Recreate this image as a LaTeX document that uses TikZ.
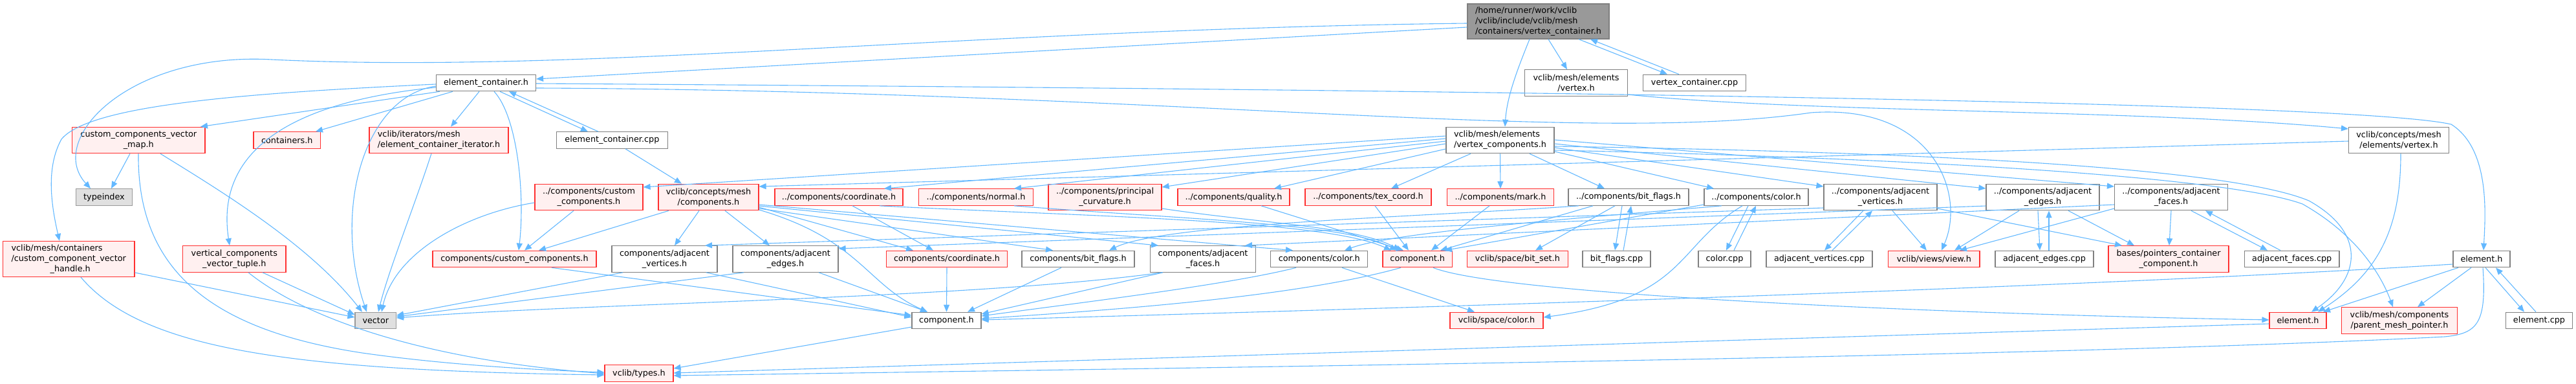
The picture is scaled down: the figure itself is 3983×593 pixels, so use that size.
\documentclass[tikz,border=0pt]{standalone}
\usepackage{fontspec}
\setmainfont{DejaVu Sans}
\usetikzlibrary{arrows.meta}
\definecolor{dxblue}{HTML}{63B8FF}
\definecolor{dxred}{HTML}{FF3030}
\definecolor{dxredfill}{HTML}{FFF0F0}
\definecolor{dxgray}{HTML}{808080}
\definecolor{dxlgray}{HTML}{999999}
\definecolor{dxgfill}{HTML}{E0E0E0}
\definecolor{dxmain}{HTML}{999999}
\tikzset{
  base/.style={rectangle, inner sep=0pt, align=center, line width=1.2pt, text=black,
    font=\fontsize{12.8}{16}\selectfont},
  rn/.style={base, draw=dxred, fill=dxredfill},
  wn/.style={base, draw=dxgray, fill=white},
  gn/.style={base, draw=dxlgray, fill=dxgfill},
  mn/.style={base, draw=dxgray, fill=dxmain, align=left},
  s1/.style={minimum height=25.5pt},
  s2/.style={minimum height=40.5pt},
  s3/.style={minimum height=55pt},
  edge/.style={draw=dxblue, line width=1.1pt, -{Triangle[length=11pt,width=9pt]}}
}
\begin{document}
\begin{tikzpicture}[x=1pt,y=-1pt]
\useasboundingbox (0,0) rectangle (3983,593);
% row 0
\node[mn, minimum width=219pt, minimum height=54pt] (M) at (2378.5,33) {/home/runner/work/vclib\\/vclib/include/vclib/mesh\\/containers/vertex\_container.h};
% row 1
\node[wn,s1,minimum width=154pt] (EC) at (751.5,128) {element\_container.h};
\node[wn,s2,minimum width=158.5pt] (VH) at (2437,128) {vclib/mesh/elements\\/vertex.h};
\node[wn,s1,minimum width=158.5pt] (VCC) at (2620,128) {vertex\_container.cpp};
% row 2
\node[rn,s2,minimum width=205.5pt] (CCVM) at (214.3,216.5) {custom\_components\_vector\\\_map.h};
\node[rn,s1,minimum width=103.5pt] (CONT) at (443.8,216.5) {containers.h};
\node[rn,s2,minimum width=215pt,align=left] (IT) at (678.5,216.5) {vclib/iterators/mesh\\/element\_container\_iterator.h};
\node[wn,s1,minimum width=171.5pt] (ECC) at (946.4,216.5) {element\_container.cpp};
\node[wn,s2,minimum width=167pt,align=left] (VC) at (2319.5,216.5) {vclib/mesh/elements\\/vertex\_components.h};
\node[wn,s2,minimum width=155pt] (CV) at (3709,216.5) {vclib/concepts/mesh\\/elements/vertex.h};
% row 3
\node[gn,s1,minimum width=87pt] (T) at (161,304.5) {typeindex};
\node[rn,s2,minimum width=167pt] (PCC) at (910.5,304.5) {../components/custom\\\_components.h};
\node[rn,s2,minimum width=155pt] (CMC) at (1095.5,304.5) {vclib/concepts/mesh\\/components.h};
\node[rn,s1,minimum width=198pt] (PCO) at (1297,304.5) {../components/coordinate.h};
\node[rn,s1,minimum width=176.5pt] (PN) at (1509,304.5) {../components/normal.h};
\node[rn,s2,minimum width=175pt] (PP) at (1708.5,304.5) {../components/principal\\\_curvature.h};
\node[rn,s1,minimum width=173pt] (PQ) at (1907.5,304.5) {../components/quality.h};
\node[rn,s1,minimum width=195pt] (PT) at (2115.5,304.5) {../components/tex\_coord.h};
\node[rn,s1,minimum width=164.5pt] (PM) at (2320,304.5) {../components/mark.h};
\node[wn,s1,minimum width=186pt] (PB) at (2518,304.5) {../components/bit\_flags.h};
\node[wn,s1,minimum width=161pt] (PC) at (2715.5,304.5) {../components/color.h};
\node[wn,s2,minimum width=175pt] (PAV) at (2907.5,304.5) {../components/adjacent\\\_vertices.h};
\node[wn,s2,minimum width=175pt] (PAE) at (3158.5,304.5) {../components/adjacent\\\_edges.h};
\node[wn,s2,minimum width=175pt] (PAF) at (3357,304.5) {../components/adjacent\\\_faces.h};
% row 4
\node[rn,s3,minimum width=203.5pt,align=left] (H) at (106.25,400) {vclib/mesh/containers\\/custom\_component\_vector\\\hspace*{60pt}\_handle.h};
\node[rn,s2,minimum width=159.4pt] (VT) at (362.3,400) {vertical\_components\\\_vector\_tuple.h};
\node[rn,s1,minimum width=253pt] (CC4) at (795.5,400) {components/custom\_components.h};
\node[wn,s2,minimum width=163pt] (CAV) at (1027.5,400) {components/adjacent\\\_vertices.h};
\node[wn,s2,minimum width=163pt] (CAE) at (1214.5,400) {components/adjacent\\\_edges.h};
\node[rn,s1,minimum width=187pt] (CCO) at (1464,400) {components/coordinate.h};
\node[wn,s1,minimum width=174pt] (CBF) at (1667,400) {components/bit\_flags.h};
\node[wn,s2,minimum width=163pt] (CAF) at (1860,400) {components/adjacent\\\_faces.h};
\node[wn,s1,minimum width=150pt] (CCL) at (2039.7,400) {components/color.h};
\node[rn,s1,minimum width=107.5pt] (CR) at (2191.75,400) {component.h};
\node[rn,s1,minimum width=155.4pt] (BS) at (2346.4,400) {vclib/space/bit\_set.h};
\node[wn,s1,minimum width=105pt] (BFC) at (2499.5,400) {bit\_flags.cpp};
\node[wn,s1,minimum width=81pt] (CCP) at (2666.5,400) {color.cpp};
\node[wn,s1,minimum width=164pt] (AVC) at (2813,400) {adjacent\_vertices.cpp};
\node[rn,s1,minimum width=141.5pt] (VW) at (2990.3,400) {vclib/views/view.h};
\node[wn,s1,minimum width=152pt] (AEC) at (3161,400) {adjacent\_edges.cpp};
\node[rn,s2,minimum width=186pt] (PTR) at (3353,400) {bases/pointers\_container\\\_component.h};
\node[wn,s1,minimum width=146.5pt] (AFC) at (3543.7,400) {adjacent\_faces.cpp};
\node[wn,s1,minimum width=88pt] (EW) at (3837,400) {element.h};
% row 5
\node[gn,s1,minimum width=63.5pt] (VEC) at (580.8,495) {vector};
\node[wn,s1,minimum width=107pt] (CW) at (1463.5,495) {component.h};
\node[rn,s1,minimum width=144pt] (SC) at (2314,495) {vclib/space/color.h};
\node[rn,s1,minimum width=88pt] (ER) at (3553,495) {element.h};
\node[rn,s2,minimum width=178.5pt] (PMP) at (3710,495) {vclib/mesh/components\\/parent\_mesh\_pointer.h};
\node[wn,s1,minimum width=103.5pt] (ECP) at (3926,495) {element.cpp};
% row 6
\node[rn,s1,minimum width=106pt] (TY) at (988,576.5) {vclib/types.h};

% ---- edges: main
\draw[edge] (M.west |- 0,36) .. controls (1500,45) and (900,115) .. (420,92) .. controls (200,80) and (70,215) .. (T.north -| 140,0);
\draw[edge] (M.west |- 0,42) -- (EC.east |- 0,122);
\draw[edge] (M.south -| 2394,0) -- (VH.north -| 2423,0);
\draw[edge] (M.south -| 2365,0) .. controls (2345,110) and (2330,150) .. (VC.north -| 2327,0);
\draw[edge] (M.south -| 2441,0) -- (VCC.north -| 2578,0);
\draw[edge] (VCC.north -| 2596,0) -- (M.south -| 2459,0);
% element_container.h
\draw[edge] (EC.south -| 680,0) -- (CCVM.north -| 310,0);
\draw[edge] (EC.south -| 700,0) -- (CONT.north -| 488,0);
\draw[edge] (EC.south -| 741,0) -- (IT.north -| 697,0);
\draw[edge] (EC.west |- 0,133) .. controls (560,150) and (515,330) .. (VEC.north -| 567,0);
\draw[edge] (EC.west |- 0,135) .. controls (420,160) and (335,250) .. (VT.north -| 355,0);
\draw[edge] (EC.west |- 0,130) .. controls (400,143) and (140,160) .. (95,215) .. controls (70,260) and (80,320) .. (H.north -| 92,0);
\draw[edge] (EC.south -| 764,0) .. controls (800,180) and (812,300) .. (CC4.north -| 802,0);
\draw[edge] (EC.south -| 773,0) -- (ECC.north -| 909,0);
\draw[edge] (ECC.north -| 925,0) -- (EC.south -| 787,0);
\draw[edge] (EC.east |- 0,129) .. controls (2500,140) and (3650,160) .. (3790,192) .. controls (3850,230) and (3843,330) .. (EW.north -| 3840,0);
\draw[edge] (EC.east |- 0,136) .. controls (1800,140) and (2450,225) .. (2800,174) .. controls (2990,160) and (3040,300) .. (VW.north -| 3002,0);
% vertex.h
\draw[edge] (VH.east |- 0,146) .. controls (2800,175) and (3300,168) .. (CV.west |- 0,199);
% custom_components_vector_map
\draw[edge] (CCVM.south -| 201,0) -- (T.north -| 172,0);
\draw[edge] (CCVM.south -| 248,0) .. controls (350,300) and (480,380) .. (VEC.north -| 560,0);
\draw[edge] (CCVM.south -| 214,0) .. controls (212,420) and (330,510) .. (560,545) .. controls (700,565) and (850,572) .. (TY.west |- 0,575);
% vertical tuple
\draw[edge] (VT.south -| 406,0) -- (VEC.west |- 0,486);
\draw[edge] (VT.south -| 384,0) .. controls (470,490) and (650,555) .. (TY.west |- 0,577);
% handle
\draw[edge] (H.east |- 0,421) -- (VEC.west |- 0,490);
\draw[edge] (H.south -| 125,0) .. controls (220,540) and (450,572) .. (TY.west |- 0,579);
% iterator
\draw[edge] (IT.south -| 667,0) .. controls (640,320) and (600,420) .. (VEC.north -| 585,0);
% element_container.cpp
\draw[edge] (ECC.south -| 967,0) -- (CMC.north -| 1054,0);
% vertex_components
\draw[edge] (VC.west |- 0,210) -- (PCC.east |- 0,289);
\draw[edge] (VC.west |- 0,214) -- (PCO.north -| 1367,0);
\draw[edge] (VC.west |- 0,218) -- (PN.north -| 1568,0);
\draw[edge] (VC.west |- 0,222) -- (PP.east |- 0,289);
\draw[edge] (VC.west |- 0,230) -- (PQ.north -| 1970,0);
\draw[edge] (VC.south -| 2274,0) -- (PT.north -| 2151,0);
\draw[edge] (VC.south) -- (PM.north);
\draw[edge] (VC.south -| 2365,0) -- (PB.north -| 2481,0);
\draw[edge] (VC.east |- 0,234) -- (PC.north -| 2650,0);
\draw[edge] (VC.east |- 0,228) -- (PAV.west |- 0,288);
\draw[edge] (VC.east |- 0,222) -- (PAE.west |- 0,291);
\draw[edge] (VC.east |- 0,216) -- (PAF.west |- 0,288);
\draw[edge] (VC.east |- 0,226) .. controls (3000,235) and (3450,260) .. (3570,310) .. controls (3660,360) and (3650,430) .. (ER.north -| 3574,0);
\draw[edge] (VC.east |- 0,232) .. controls (3000,245) and (3450,275) .. (3560,315) .. controls (3640,360) and (3680,420) .. (PMP.north -| 3700,0);
% concept vertex
\draw[edge] (CV.west |- 0,218) -- (CMC.east |- 0,288);
\draw[edge] (CV.south -| 3712,0) .. controls (3712,350) and (3680,420) .. (ER.north -| 3584,0);
% ../custom_components
\draw[edge] (PCC.south -| 887,0) -- (CC4.north -| 811,0);
\draw[edge] (PCC.west |- 0,313) .. controls (720,330) and (610,390) .. (VEC.north -| 590,0);
% concepts components.h
\draw[edge] (CMC.south -| 1034,0) -- (CC4.north -| 833,0);
\draw[edge] (CMC.south -| 1081,0) -- (CAV.north -| 1043,0);
\draw[edge] (CMC.south -| 1121,0) -- (CAE.north -| 1190,0);
\draw[edge] (CMC.east |- 0,320) -- (CCO.north -| 1412,0);
\draw[edge] (CMC.east |- 0,322) -- (CBF.north -| 1628,0);
\draw[edge] (CMC.east |- 0,318) -- (CAF.north -| 1791,0);
\draw[edge] (CMC.east |- 0,316) -- (CCL.north -| 1999,0);
\draw[edge] (CMC.east |- 0,324) .. controls (1330,370) and (1340,440) .. (CW.north -| 1434,0);
% ../components/*  -> component.h (red)
\draw[edge] (PCO.south -| 1318,0) -- (CCO.north -| 1443,0);
\draw[edge] (PCO.south -| 1360,0) .. controls (1700,335) and (2050,340) .. (CR.north -| 2151,0);
\draw[edge] (PN.south -| 1568,0) .. controls (1850,340) and (2080,345) .. (CR.north -| 2160,0);
\draw[edge] (PP.east |- 0,322) .. controls (1950,345) and (2100,350) .. (CR.north -| 2165,0);
\draw[edge] (PQ.south -| 1950,0) -- (CR.north -| 2170,0);
\draw[edge] (PT.south -| 2126,0) -- (CR.north -| 2178,0);
\draw[edge] (PM.south -| 2303,0) -- (CR.north -| 2213,0);
\draw[edge] (PB.south -| 2463,0) -- (CR.north -| 2227,0);
\draw[edge] (PB.south -| 2441,0) .. controls (2200,335) and (1800,345) .. (CBF.north -| 1715,0);
\draw[edge] (PB.south -| 2497,0) -- (BS.north -| 2374,0);
\draw[edge] (PB.south -| 2508,0) -- (BFC.north -| 2497,0);
\draw[edge] (BFC.north -| 2510,0) -- (PB.south -| 2522,0);
\draw[edge] (PC.south -| 2703,0) -- (CCP.north -| 2669,0);
\draw[edge] (CCP.north -| 2681,0) -- (PC.south -| 2715,0);
\draw[edge] (PC.south -| 2662,0) .. controls (2400,340) and (2150,360) .. (CCL.north -| 2079,0);
\draw[edge] (PC.south -| 2694,0) .. controls (2590,380) and (2610,460) .. (SC.east |- 0,490);
\draw[edge] (PC.west |- 0,316) -- (CR.north -| 2234,0);
% adjacent
\draw[edge] (PAV.south -| 2881,0) -- (AVC.north -| 2821,0);
\draw[edge] (AVC.north -| 2833,0) -- (PAV.south -| 2895,0);
\draw[edge] (PAV.south -| 2926,0) -- (VW.north -| 2979,0);
\draw[edge] (PAV.east |- 0,322) -- (PTR.north -| 3281,0);
\draw[edge] (PAV.west |- 0,321) -- (CAV.north -| 1090,0);
\draw[edge] (PAE.south -| 3151,0) -- (AEC.north -| 3154,0);
\draw[edge] (AEC.north -| 3168,0) -- (PAE.south -| 3168,0);
\draw[edge] (PAE.south -| 3122,0) -- (VW.north -| 3022,0);
\draw[edge] (PAE.south -| 3198,0) -- (PTR.north -| 3300,0);
\draw[edge] (PAE.west |- 0,318) -- (CAE.east |- 0,384);
\draw[edge] (PAF.south -| 3357,0) -- (PTR.north -| 3354,0);
\draw[edge] (PAF.south -| 3388,0) -- (AFC.north -| 3506,0);
\draw[edge] (AFC.north -| 3526,0) -- (PAF.south -| 3410,0);
\draw[edge] (PAF.west |- 0,322) -- (VW.north -| 3030,0);
\draw[edge] (PAF.west |- 0,316) -- (CAF.north -| 1925,0);
% row 4 out
\draw[edge] (CR.south -| 2166,0) .. controls (2000,460) and (1700,480) .. (CW.east |- 0,492);
\draw[edge] (CR.south -| 2216,0) .. controls (2320,455) and (3000,485) .. (ER.west |- 0,494);
\draw[edge] (CCO.south) -- (CW.north);
\draw[edge] (CBF.south -| 1641,0) -- (CW.north -| 1496,0);
\draw[edge] (CAF.south -| 1798,0) -- (CW.east |- 0,485);
\draw[edge] (CAF.south -| 1797,0) .. controls (1500,462) and (900,468) .. (VEC.east |- 0,491);
\draw[edge] (CCL.south -| 2004,0) .. controls (1900,440) and (1650,470) .. (CW.east |- 0,488);
\draw[edge] (CCL.south -| 2075,0) -- (SC.north -| 2280,0);
\draw[edge] (CC4.south -| 853,0) -- (CW.west |- 0,487);
\draw[edge] (CAV.south -| 963,0) -- (VEC.east |- 0,487);
\draw[edge] (CAV.south -| 1092,0) -- (CW.west |- 0,490);
\draw[edge] (CAE.south -| 1150,0) -- (VEC.east |- 0,489);
\draw[edge] (CAE.south -| 1266,0) -- (CW.north -| 1434,0);
% row 5 out
\draw[edge] (CW.west |- 0,505) -- (TY.east |- 0,569);
\draw[edge] (ER.west |- 0,500) -- (TY.east |- 0,576);
\draw[edge] (EW.south -| 3801,0) -- (ER.north -| 3592,0);
\draw[edge] (EW.south -| 3821,0) -- (PMP.north -| 3738,0);
\draw[edge] (EW.south -| 3843,0) -- (ECP.north -| 3903,0);
\draw[edge] (ECP.north -| 3921,0) -- (EW.south -| 3859,0);
\draw[edge] (EW.south -| 3839,0) .. controls (3845,500) and (3830,515) .. (3780,520) .. controls (3200,550) and (2000,566) .. (TY.east |- 0,580);
\draw[edge] (EW.west |- 0,408) .. controls (3200,445) and (2200,475) .. (CW.east |- 0,494);
\end{tikzpicture}
\end{document}
